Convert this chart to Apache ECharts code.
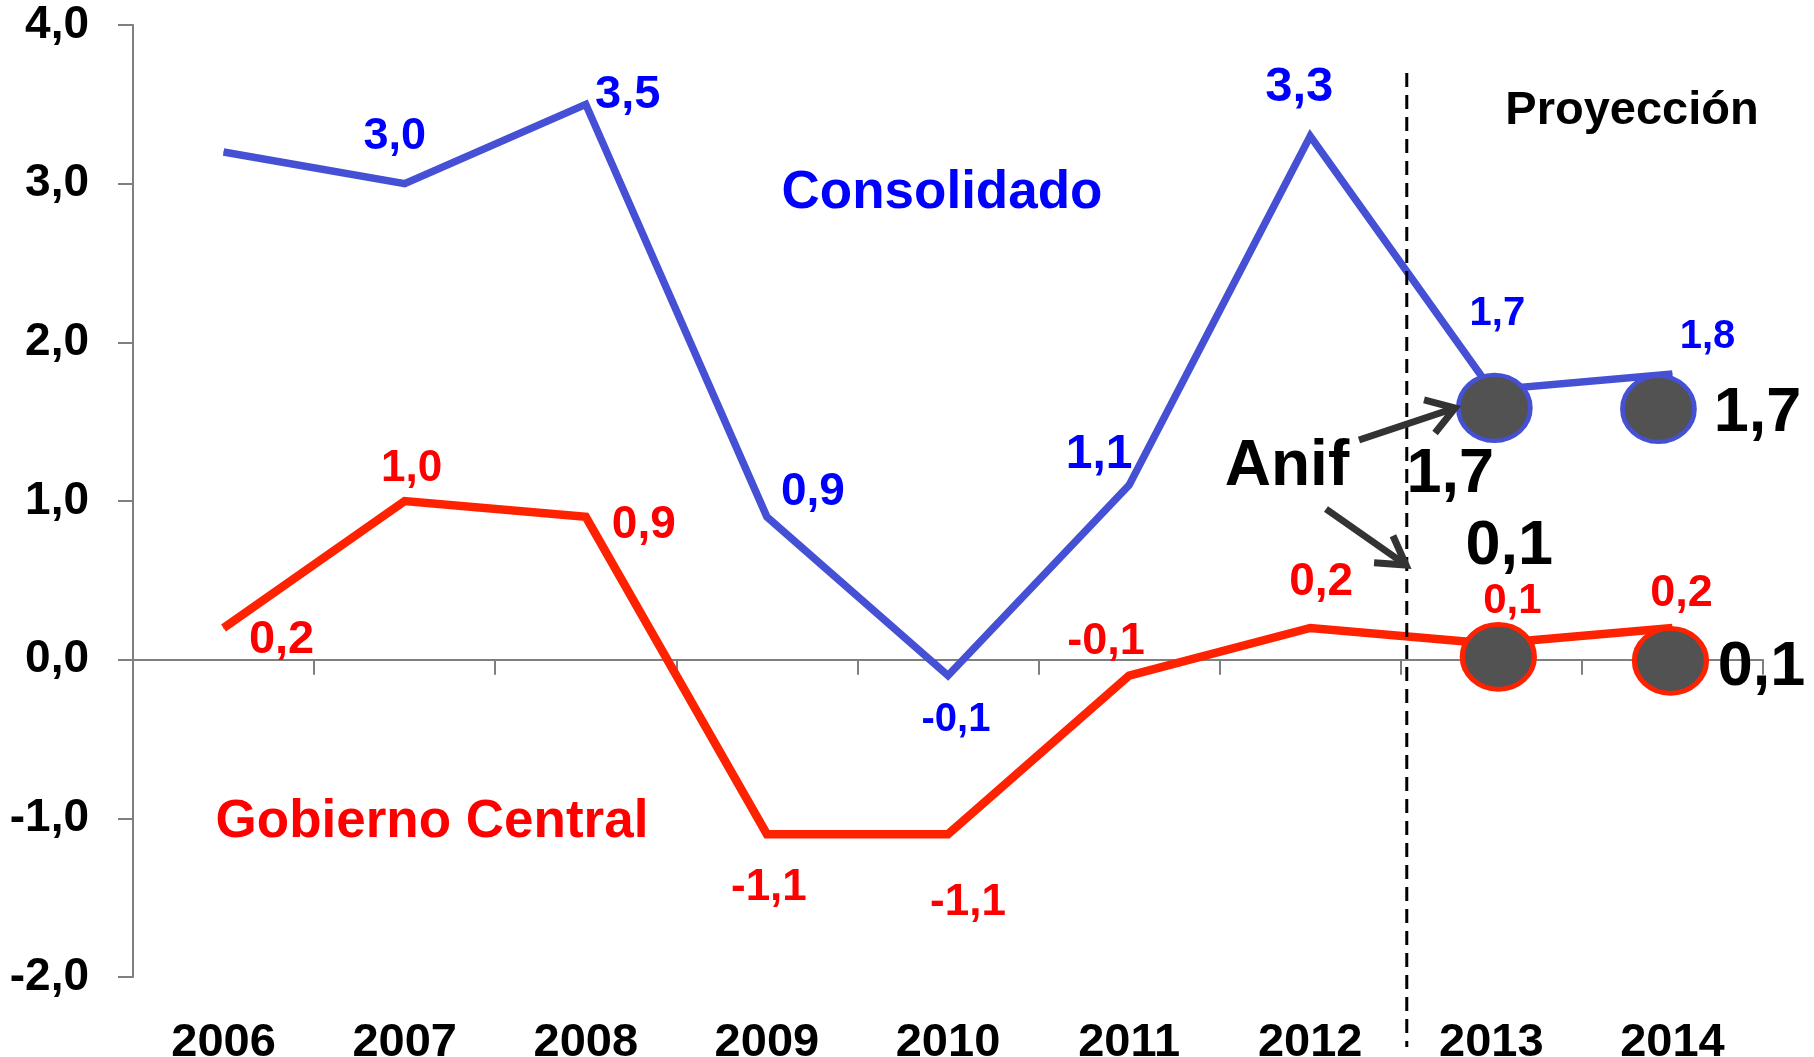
<!DOCTYPE html>
<html>
<head>
<meta charset="utf-8">
<script src="https://cdn.jsdelivr.net/npm/echarts@6/dist/echarts.min.js"></script>
<style>
  html, body { margin: 0; padding: 0; background: #ffffff; }
  #chart { width: 1814px; height: 1057px; }
</style>
</head>
<body>
<div id="chart"></div>
<script>
// Balance fiscal (% del PIB)
const years = ['2006', '2007', '2008', '2009', '2010', '2011', '2012', '2013', '2014'];
const consolidado = [3.2, 3.0, 3.5, 0.9, -0.1, 1.1, 3.3, 1.7, 1.8];
const gobiernoCentral = [0.2, 1.0, 0.9, -1.1, -1.1, -0.1, 0.2, 0.1, 0.2];
// Anif projections for the last two years
const anifConsolidado = [null, null, null, null, null, null, null, 1.7, 1.7];
const anifGobierno = [null, null, null, null, null, null, null, 0.1, 0.1];
const yMin = -2, yMax = 4, yStep = 1;

const FONT = '"Liberation Sans", Arial, Helvetica, sans-serif';
const BLUE_LINE = '#4550d5';
const BLUE_TEXT = '#0000ff';
const RED_LINE = '#ff2200';
const RED_TEXT = '#ff0000';
const DOT_FILL = '#525252';
const ARROW = '#333333';

const fmt = v => Number(v).toFixed(1).replace('.', ',');

// label placement per point: [dx, dy, fontSize]
const blueLabelPlace = [null, [-10, -47, 45], [42, -9, 47], [46, -25, 46], [8, 44, 40],
  [-30, -30, 48], [-11, -49, 49], [6, -76, 40], [35, -37, 40]];
const redLabelPlace = [[58, 12, 47], [7, -32, 44], [58, 8, 46], [2, 54, 44], [20, 69, 44],
  [-23, -34, 45], [11, -46, 46], [21, -42, 42], [9, -34, 45]];

function lineData(values, places, color) {
  return values.map((v, i) => {
    const p = places[i];
    return {
      value: v,
      label: p ? {
        show: true, position: 'inside', offset: [p[0], p[1]],
        fontSize: p[2], color: color
      } : { show: false }
    };
  });
}

// Anif markers: symbol shift and label placement [sx, sy, lx, ly]
const blueDotPlace = [null, null, null, null, null, null, null, [3, 18, -44, 67], [-14, 19, 99, 5]];
const redDotPlace = [null, null, null, null, null, null, null, [7, 13, 11, -110], [-2, 17, 91, 7]];

function dotData(values, places) {
  return values.map((v, i) => {
    if (v == null) return null;
    const p = places[i];
    return {
      value: v,
      symbolOffset: [p[0], p[1]],
      label: { offset: [p[2], p[3]] }
    };
  });
}

const chart = echarts.init(document.getElementById('chart'), null, { renderer: 'canvas' });

const option = {
  animation: false,
  backgroundColor: '#ffffff',
  textStyle: { fontFamily: FONT },
  grid: { left: 133, right: 51, top: 25, bottom: 80, containLabel: false, outerBoundsMode: 'none' },
  xAxis: [
    {
      type: 'category',
      data: years,
      position: 'bottom',
      boundaryGap: true,
      axisLine: { show: true, onZero: true, lineStyle: { color: '#7f7f7f', width: 2 } },
      axisTick: { show: true, length: 15, lineStyle: { color: '#7f7f7f', width: 2 } },
      axisLabel: { show: false },
      splitLine: { show: false }
    },
    {
      type: 'category',
      data: years,
      position: 'bottom',
      boundaryGap: true,
      axisLine: { show: false, onZero: false },
      axisTick: { show: false },
      axisLabel: {
        show: true, margin: 43, color: '#000000',
        fontFamily: FONT, fontWeight: 'bold', fontSize: 47
      },
      splitLine: { show: false }
    }
  ],
  yAxis: {
    type: 'value',
    min: yMin, max: yMax, interval: yStep,
    axisLine: { show: true, lineStyle: { color: '#7f7f7f', width: 2 } },
    axisTick: { show: true, length: 15, lineStyle: { color: '#7f7f7f', width: 2 } },
    axisLabel: {
      margin: 44, color: '#000000', fontFamily: FONT, fontWeight: 'bold', fontSize: 46,
      formatter: v => fmt(v)
    },
    splitLine: { show: false }
  },
  series: [
    {
      name: 'Gobierno Central',
      type: 'line',
      xAxisIndex: 0,
      data: lineData(gobiernoCentral, redLabelPlace, RED_TEXT),
      symbol: 'circle', symbolSize: 1, showSymbol: true,
      itemStyle: { color: RED_LINE },
      lineStyle: { color: RED_LINE, width: 8.5, join: 'miter' },
      label: { fontFamily: FONT, fontWeight: 'bold', formatter: p => fmt(p.value) },
      emphasis: { disabled: true },
      z: 2
    },
    {
      name: 'Consolidado',
      type: 'line',
      xAxisIndex: 0,
      data: lineData(consolidado, blueLabelPlace, BLUE_TEXT),
      symbol: 'circle', symbolSize: 1, showSymbol: true,
      itemStyle: { color: BLUE_LINE },
      lineStyle: { color: BLUE_LINE, width: 7.5, join: 'miter' },
      label: { fontFamily: FONT, fontWeight: 'bold', formatter: p => fmt(p.value) },
      emphasis: { disabled: true },
      z: 2
    },
    {
      name: 'Anif Consolidado',
      type: 'scatter',
      xAxisIndex: 0,
      data: dotData(anifConsolidado, blueDotPlace),
      symbol: 'circle', symbolSize: [72, 66],
      itemStyle: { color: DOT_FILL, borderColor: BLUE_LINE, borderWidth: 4.5, opacity: 1 },
      label: {
        show: true, position: 'inside', color: '#000000',
        fontFamily: FONT, fontWeight: 'bold', fontSize: 63,
        formatter: p => fmt(p.value)
      },
      emphasis: { disabled: true },
      z: 5
    },
    {
      name: 'Anif Gobierno Central',
      type: 'scatter',
      xAxisIndex: 0,
      data: dotData(anifGobierno, redDotPlace),
      symbol: 'circle', symbolSize: [72, 65],
      itemStyle: { color: DOT_FILL, borderColor: RED_LINE, borderWidth: 5, opacity: 1 },
      label: {
        show: true, position: 'inside', color: '#000000',
        fontFamily: FONT, fontWeight: 'bold', fontSize: 63,
        formatter: p => fmt(p.value)
      },
      emphasis: { disabled: true },
      z: 5
    }
  ]
};

chart.setOption(option);

// divider between observed and projected years
const x2012 = chart.convertToPixel({ xAxisIndex: 0 }, '2012');
const x2013 = chart.convertToPixel({ xAxisIndex: 0 }, '2013');
const dividerX = (x2012 + x2013) / 2 + 6;

function arrow(x1, y1, x2, y2, headLen, headDeg) {
  const ang = Math.atan2(y1 - y2, x1 - x2);
  const a = headDeg * Math.PI / 180;
  const p1 = [x2 + headLen * Math.cos(ang + a), y2 + headLen * Math.sin(ang + a)];
  const p2 = [x2 + headLen * Math.cos(ang - a), y2 + headLen * Math.sin(ang - a)];
  return [
    { type: 'line', shape: { x1: x1, y1: y1, x2: x2, y2: y2 },
      style: { stroke: ARROW, lineWidth: 7, lineCap: 'butt' }, z: 10 },
    { type: 'polyline', shape: { points: [p1, [x2, y2], p2] },
      style: { stroke: ARROW, lineWidth: 7, fill: null, lineJoin: 'miter', lineCap: 'butt' }, z: 10 }
  ];
}

function text(str, x, y, size, color) {
  return {
    type: 'text', x: x, y: y, z: 10,
    style: {
      text: str, fill: color, align: 'center', verticalAlign: 'middle',
      font: 'bold ' + size + 'px ' + FONT
    }
  };
}

chart.setOption({
  graphic: [
    {
      type: 'line',
      shape: { x1: dividerX, y1: 73, x2: dividerX, y2: 1047 },
      style: { stroke: '#000000', lineWidth: 3, lineDash: [14, 8] },
      z: 4
    },
    text('Consolidado', 942, 193, 53, BLUE_TEXT),
    text('Gobierno Central', 432, 822, 53, RED_TEXT),
    text('Proyección', 1632, 111, 47, '#000000'),
    text('Anif', 1287, 467, 64, '#000000'),
    ...arrow(1359, 440, 1455, 408, 32, 33),
    ...arrow(1326, 509, 1406, 565, 32, 31)
  ]
});
</script>
</body>
</html>
